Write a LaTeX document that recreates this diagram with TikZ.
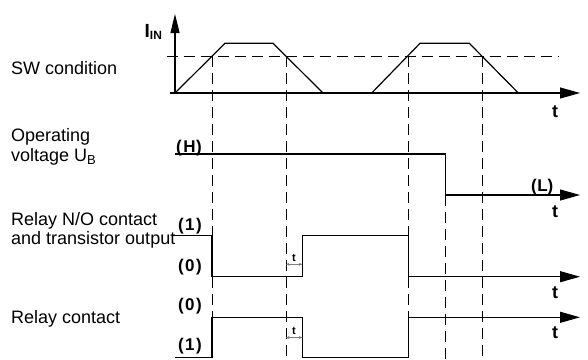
\documentclass[tikz,border=0pt]{standalone}
\usepackage{fontspec}
\setmainfont{Liberation Sans}
\usetikzlibrary{arrows.meta}
\begin{document}
\begin{tikzpicture}[x=1pt,y=-1pt,
  sig/.style={line width=1.2pt, line join=miter},
  axis/.style={line width=1.2pt, -{Triangle[length=20pt,width=11pt]}},
  guide/.style={line width=0.9pt, dash pattern=on 11pt off 6pt},
  lbl/.style={anchor=base west, inner sep=0pt, font=\fontsize{18}{20}\selectfont},
  lvl/.style={anchor=base east, inner sep=0pt, font=\fontsize{17}{19}\selectfont\bfseries},
  tl/.style={anchor=base, inner sep=0pt, font=\fontsize{18}{20}\selectfont\bfseries},
  dim/.style={draw=gray, line width=0.6pt, {Stealth[length=3.5pt,width=3pt]}-{Stealth[length=3.5pt,width=3pt]}},
  dimt/.style={anchor=base, inner sep=0pt, font=\fontsize{11}{12}\selectfont\bfseries}]
\useasboundingbox (0,0) rectangle (588,359);

% left labels
\node[lbl] (sw) at (11,74) {SW condition};
\node[lbl] (op1) at (11,141.5) {Operating};
\node[lbl] (op2) at (11,161.5) {voltage U\raisebox{-3pt}{\fontsize{13}{13}\selectfont B}};
\node[lbl] (no1) at (11,225) {Relay N/O contact};
\node[lbl] (no2) at (11,244) {and transistor output};
\node[lbl] (rc) at (11,323.3) {Relay contact};

% level labels
\node[lvl] (H) at (202,152) {(\kern1.5pt H\kern0.5pt)};
\node[lvl] (n1) at (202,230) {(\kern1.5pt1\kern1.5pt)};
\node[lvl] (n0) at (202,271.7) {(\kern1.5pt0\kern1.5pt)};
\node[lvl] (r0) at (202,310) {(\kern1.5pt0\kern1.5pt)};
\node[lvl] (r1) at (202,350) {(\kern1.5pt1\kern1.5pt)};
\node[lvl] (L) at (553.5,191.5) {(\kern0.5pt L)};

% I_IN label
\node[anchor=base west, inner sep=0pt] (iin) at (144.5,37)
  {\fontsize{19}{19}\selectfont\bfseries I\raisebox{-2.5pt}{\fontsize{12}{12}\selectfont IN}};

% t labels
\node[tl] (t1) at (555,117) {t};
\node[tl] (t2) at (555,217) {t};
\node[tl] (t3) at (555,298.5) {t};
\node[tl] (t4) at (555,338.5) {t};

% coordinates
\coordinate (o) at (175,93);
\coordinate (yt) at (175,14);
\coordinate (xs) at (170,93);
\coordinate (xe) at (580,93);

% axes SW condition
\draw[line width=1.2pt, -{Triangle[length=19pt,width=9pt]}] (o) -- (yt);
\draw[axis] (xs) -- (xe);
\draw[guide] (166.7,56) -- (558,56);
\draw[sig] (175,93) -- (225,43.3) -- (273,43.3) -- (323,93);
\draw[sig] (371.7,93) -- (420,43.3) -- (469.3,43.3) -- (518.3,93);

% dashed guides
\draw[guide] (212,56) -- (212,359);
\draw[guide] (286,56) -- (286,359);
\draw[guide] (408.5,56) -- (408.5,359);
\draw[guide] (482,56) -- (482,359);
\draw[guide] (445.7,195) -- (445.7,359);

% operating voltage
\draw[sig] (175,154) -- (445.7,154) -- (445.7,195);
\draw[axis] (445.7,195) -- (580,195);

% relay N/O
\draw[sig] (173,235.7) -- (212,235.7) -- (212,276.7) -- (302.3,276.7) -- (302.3,235.7) -- (408.5,235.7) -- (408.5,276.7);
\draw[axis] (408.5,276.7) -- (580,276.7);

% relay contact
\draw[sig] (175,357.7) -- (212,357.7) -- (212,317.3) -- (302.3,317.3) -- (302.3,357.7) -- (408.5,357.7) -- (408.5,317.3);
\draw[axis] (408.5,317.3) -- (580,317.3);

% delay dimensions
\coordinate (d1a) at (286,264.3);
\coordinate (d1b) at (302.3,264.3);
\draw[dim] (d1a) -- (d1b);
\node[dimt] (dt1) at (294,261) {t};
\coordinate (d2a) at (286,337.5);
\coordinate (d2b) at (302.3,337.5);
\draw[dim] (d2a) -- (d2b);
\node[dimt] (dt2) at (294,334) {t};
\end{tikzpicture}
\end{document}
